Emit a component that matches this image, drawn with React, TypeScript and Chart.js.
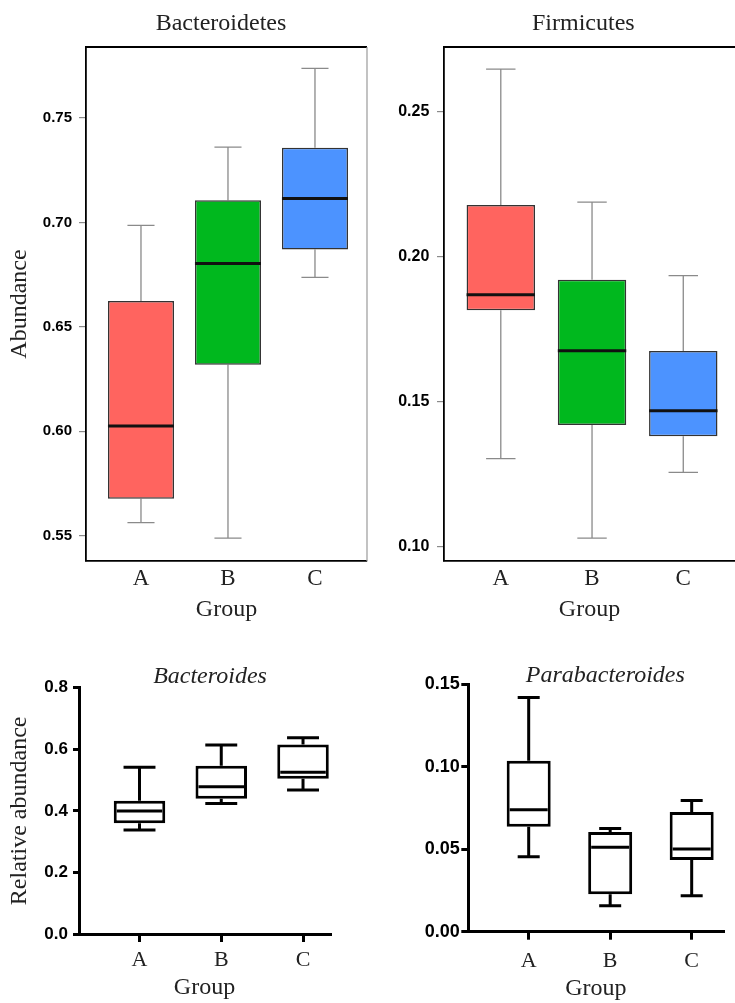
import React, { useEffect, useRef } from 'react';
import { Chart, registerables } from 'chart.js';

Chart.register(...registerables);

// ---------------- data ----------------
const groups = ['A', 'B', 'C'];

// Bacteroidetes (phylum)
const bactMin = [0.5563, 0.5489, 0.6737];
const bactQ1 = [0.5677, 0.6319, 0.6871];
const bactMed = [0.6025, 0.6804, 0.7115];
const bactQ3 = [0.6624, 0.7106, 0.7358];
const bactMax = [0.6986, 0.7361, 0.7738];
const bactTicks = [0.55, 0.6, 0.65, 0.7, 0.75];

// Firmicutes (phylum)
const firmMin = [0.1304, 0.1031, 0.1257];
const firmQ1 = [0.1815, 0.142, 0.1381];
const firmMed = [0.1868, 0.1676, 0.1469];
const firmQ3 = [0.2177, 0.192, 0.1675];
const firmMax = [0.2645, 0.2187, 0.1934];
const firmTicks = [0.1, 0.15, 0.2, 0.25];

// Bacteroides (genus)
const bdsMin = [0.3377, 0.4242, 0.4675];
const bdsQ1 = [0.3594, 0.4394, 0.5043];
const bdsMed = [0.3994, 0.4784, 0.525];
const bdsQ3 = [0.4328, 0.5465, 0.6159];
const bdsMax = [0.542, 0.6136, 0.6374];
const bdsTicks = [0, 0.2, 0.4, 0.6, 0.8];

// Parabacteroides (genus)
const paraMin = [0.0455, 0.0158, 0.0218];
const paraQ1 = [0.0637, 0.0227, 0.0435];
const paraMed = [0.074, 0.0512, 0.0502];
const paraQ3 = [0.1036, 0.0605, 0.0726];
const paraMax = [0.142, 0.0625, 0.0795];
const paraTicks = [0, 0.05, 0.1, 0.15];

const groupColors = ['#FF645F', '#00B81E', '#4C93FF'];

// ---------------- styling ----------------
const SERIF = '"Liberation Serif", "Times New Roman", serif';
const SANS = '"Liberation Sans", Arial, sans-serif';

type Spec = {
  x: number; y: number; w: number; h: number;
  padTop: number; padRight: number; yWidth: number; xHeight: number;
  xMin: number; xMax: number; yMin: number; yMax: number;
  yTicks: number[]; decimals: number;
  min: number[]; q1: number[]; med: number[]; q3: number[]; max: number[];
  fills: string[]; boxBorder: string; boxBorderWidth: number;
  barPct: number; capRatio: number;
  whiskerColor: string; whiskerWidth: number;
  medianColor: string; medianWidth: number; medianInset: number;
  tickFont: number; tickLen: number; tickPad: number; tickColor: string; tickWidth: number;
  axisWidth: number;
  xTickLen: number; xLabelPad: number; xTitlePad: number; xLabelFont: number;
  yTitle?: string; yTitlePad: number;
  title: string; titleItalic: boolean; titleX: number; titleY: number;
  frameTop: boolean; frameRight: boolean;
};

const specs: Spec[] = [
  {
    x: 0, y: 0, w: 370, h: 640,
    padTop: 47, padRight: 3, yWidth: 86, xHeight: 79,
    xMin: 0.368, xMax: 3.598, yMin: 0.5379, yMax: 0.784,
    yTicks: bactTicks, decimals: 2,
    min: bactMin, q1: bactQ1, med: bactMed, q3: bactQ3, max: bactMax,
    fills: groupColors, boxBorder: '#333333', boxBorderWidth: 1.5,
    barPct: 0.759, capRatio: 0.41,
    whiskerColor: '#8a8a8a', whiskerWidth: 1.3,
    medianColor: '#111111', medianWidth: 3, medianInset: 0,
    tickFont: 15, tickLen: 7, tickPad: 7, tickColor: '#8a8a8a', tickWidth: 1.2,
    axisWidth: 1.8,
    xTickLen: 0, xLabelPad: 6.5, xTitlePad: 18, xLabelFont: 23,
    yTitle: 'Abundance', yTitlePad: 7.6,
    title: 'Bacteroidetes', titleItalic: false, titleX: 221, titleY: 24,
    frameTop: true, frameRight: true,
  },
  {
    x: 370, y: 0, w: 365, h: 640,
    padTop: 47, padRight: 0, yWidth: 74, xHeight: 79,
    xMin: 0.3775, xMax: 3.567, yMin: 0.0952, yMax: 0.2721,
    yTicks: firmTicks, decimals: 2,
    min: firmMin, q1: firmQ1, med: firmMed, q3: firmQ3, max: firmMax,
    fills: groupColors, boxBorder: '#333333', boxBorderWidth: 1.5,
    barPct: 0.75, capRatio: 0.43,
    whiskerColor: '#8a8a8a', whiskerWidth: 1.3,
    medianColor: '#111111', medianWidth: 3, medianInset: 0,
    tickFont: 16, tickLen: 7, tickPad: 7.7, tickColor: '#8a8a8a', tickWidth: 1.2,
    axisWidth: 1.8,
    xTickLen: 0, xLabelPad: 6.5, xTitlePad: 18, xLabelFont: 23,
    yTitlePad: 0,
    title: 'Firmicutes', titleItalic: false, titleX: 213.3, titleY: 24,
    frameTop: true, frameRight: false,
  },
  {
    x: 0, y: 640, w: 370, h: 363,
    padTop: 47.7, padRight: 40, yWidth: 79, xHeight: 69,
    xMin: 0.26, xMax: 3.33, yMin: 0, yMax: 0.8,
    yTicks: bdsTicks, decimals: 1,
    min: bdsMin, q1: bdsQ1, med: bdsMed, q3: bdsQ3, max: bdsMax,
    fills: ['#ffffff', '#ffffff', '#ffffff'], boxBorder: '#000000', boxBorderWidth: 3,
    barPct: 0.63, capRatio: 0.62,
    whiskerColor: '#000000', whiskerWidth: 3,
    medianColor: '#000000', medianWidth: 3, medianInset: 3,
    tickFont: 17, tickLen: 6, tickPad: 5, tickColor: '#000000', tickWidth: 3,
    axisWidth: 3,
    xTickLen: 8, xLabelPad: 7.5, xTitlePad: 3.5, xLabelFont: 22,
    yTitle: 'Relative abundance', yTitlePad: 8,
    title: 'Bacteroides', titleItalic: true, titleX: 210, titleY: 36.3,
    frameTop: false, frameRight: false,
  },
  {
    x: 370, y: 640, w: 365, h: 363,
    padTop: 44.3, padRight: 11.7, yWidth: 98.3, xHeight: 71.3,
    xMin: 0.259, xMax: 3.388, yMin: 0, yMax: 0.15,
    yTicks: paraTicks, decimals: 2,
    min: paraMin, q1: paraQ1, med: paraMed, q3: paraQ3, max: paraMax,
    fills: ['#ffffff', '#ffffff', '#ffffff'], boxBorder: '#000000', boxBorderWidth: 3,
    barPct: 0.54, capRatio: 0.5,
    whiskerColor: '#000000', whiskerWidth: 3,
    medianColor: '#000000', medianWidth: 3, medianInset: 3,
    tickFont: 18, tickLen: 7, tickPad: 1.5, tickColor: '#000000', tickWidth: 3,
    axisWidth: 3,
    xTickLen: 8, xLabelPad: 10.1, xTitlePad: 2, xLabelFont: 22,
    yTitlePad: 0,
    title: 'Parabacteroides', titleItalic: true, titleX: 235.3, titleY: 36,
    frameTop: false, frameRight: false,
  },
];

function buildConfig(s: Spec): any {
  const data = groups.map((_, i) => ({ x: i + 1, y: [s.q1[i], s.q3[i]] }));

  const whiskerPlugin = {
    id: 'whiskers',
    beforeDatasetsDraw(chart: any) {
      const ctx = chart.ctx;
      const xs = chart.scales.x;
      const ys = chart.scales.y;
      const meta = chart.getDatasetMeta(0);
      ctx.save();
      ctx.strokeStyle = s.whiskerColor;
      ctx.lineWidth = s.whiskerWidth;
      ctx.lineCap = 'butt';
      groups.forEach((_, i) => {
        const el = meta.data[i];
        const cx = xs.getPixelForValue(i + 1);
        const capW = el.width * s.capRatio;
        const yMax = ys.getPixelForValue(s.max[i]);
        const yMin = ys.getPixelForValue(s.min[i]);
        const yQ1 = ys.getPixelForValue(s.q1[i]);
        const yQ3 = ys.getPixelForValue(s.q3[i]);
        ctx.beginPath();
        ctx.moveTo(cx, yQ3);
        ctx.lineTo(cx, yMax);
        ctx.moveTo(cx - capW / 2, yMax);
        ctx.lineTo(cx + capW / 2, yMax);
        ctx.moveTo(cx, yQ1);
        ctx.lineTo(cx, yMin);
        ctx.moveTo(cx - capW / 2, yMin);
        ctx.lineTo(cx + capW / 2, yMin);
        ctx.stroke();
      });
      ctx.restore();
    },
    afterDatasetsDraw(chart: any) {
      const ctx = chart.ctx;
      const xs = chart.scales.x;
      const ys = chart.scales.y;
      const meta = chart.getDatasetMeta(0);
      ctx.save();
      ctx.strokeStyle = s.medianColor;
      ctx.lineWidth = s.medianWidth;
      groups.forEach((_, i) => {
        const el = meta.data[i];
        const cx = xs.getPixelForValue(i + 1);
        const half = el.width / 2 - s.medianInset;
        const yMed = ys.getPixelForValue(s.med[i]);
        ctx.beginPath();
        ctx.moveTo(cx - half, yMed);
        ctx.lineTo(cx + half, yMed);
        ctx.stroke();
      });
      ctx.restore();
    },
  };

  const framePlugin = {
    id: 'frame',
    afterDraw(chart: any) {
      const { ctx, chartArea } = chart;
      ctx.save();
      if (s.frameTop) {
        ctx.strokeStyle = '#000000';
        ctx.lineWidth = s.axisWidth;
        ctx.beginPath();
        ctx.moveTo(chartArea.left - s.axisWidth / 2, chartArea.top);
        ctx.lineTo(chartArea.right, chartArea.top);
        ctx.stroke();
      }
      if (s.frameRight) {
        ctx.strokeStyle = '#9a9a9a';
        ctx.lineWidth = 1.2;
        ctx.beginPath();
        ctx.moveTo(chartArea.right, chartArea.top);
        ctx.lineTo(chartArea.right, chartArea.bottom);
        ctx.stroke();
      }
      ctx.restore();
    },
  };

  const titlePlugin = {
    id: 'panelTitle',
    afterDraw(chart: any) {
      const ctx = chart.ctx;
      ctx.save();
      ctx.font = `${s.titleItalic ? 'italic ' : ''}24px ${SERIF}`;
      ctx.fillStyle = '#222222';
      ctx.textAlign = 'center';
      ctx.textBaseline = 'middle';
      ctx.fillText(s.title, s.titleX, s.titleY);
      ctx.restore();
    },
  };

  return {
    type: 'bar',
    data: {
      datasets: [
        {
          data,
          backgroundColor: s.fills,
          borderColor: s.boxBorder,
          borderWidth: s.boxBorderWidth,
          borderSkipped: false,
          inflateAmount: 0,
          categoryPercentage: 1,
          barPercentage: s.barPct,
        },
      ],
    },
    options: {
      animation: false,
      responsive: false,
      devicePixelRatio: 1,
      layout: { padding: { top: s.padTop, right: s.padRight, left: 0, bottom: 0 } },
      plugins: { legend: { display: false }, tooltip: { enabled: false }, title: { display: false } },
      scales: {
        x: {
          type: 'linear',
          min: s.xMin,
          max: s.xMax,
          offset: false,
          afterBuildTicks: (sc: any) => {
            sc.ticks = groups.map((_, i) => ({ value: i + 1 }));
          },
          afterFit: (sc: any) => {
            sc.height = s.xHeight;
          },
          ticks: {
            autoSkip: false,
            maxRotation: 0,
            minRotation: 0,
            padding: s.xLabelPad,
            color: '#222222',
            font: { family: SERIF, size: s.xLabelFont, lineHeight: 1 },
            callback: (v: any) => groups[Math.round(Number(v)) - 1] ?? '',
          },
          grid: {
            display: s.xTickLen > 0,
            offset: false,
            drawOnChartArea: false,
            drawTicks: s.xTickLen > 0,
            tickLength: s.xTickLen,
            color: s.tickColor,
            lineWidth: s.tickWidth,
          },
          border: { display: true, color: '#000000', width: s.axisWidth },
          title: {
            display: true,
            text: 'Group',
            color: '#222222',
            font: { family: SERIF, size: 24, lineHeight: 1 },
            padding: { top: 0, bottom: s.xTitlePad },
          },
        },
        y: {
          type: 'linear',
          min: s.yMin,
          max: s.yMax,
          beginAtZero: false,
          afterBuildTicks: (sc: any) => {
            sc.ticks = s.yTicks.map((v) => ({ value: v }));
          },
          afterFit: (sc: any) => {
            sc.width = s.yWidth;
          },
          ticks: {
            padding: s.tickPad,
            color: '#000000',
            font: { family: SANS, size: s.tickFont, weight: 'bold' },
            callback: (v: any) => Number(v).toFixed(s.decimals),
          },
          grid: {
            display: true,
            drawOnChartArea: false,
            drawTicks: true,
            tickLength: s.tickLen,
            color: s.tickColor,
            lineWidth: s.tickWidth,
          },
          border: { display: true, color: '#000000', width: s.axisWidth },
          title: {
            display: !!s.yTitle,
            text: s.yTitle ?? '',
            color: '#222222',
            font: { family: SERIF, size: 24, lineHeight: 1 },
            padding: { top: s.yTitlePad, bottom: 0 },
          },
        },
      },
    },
    plugins: [whiskerPlugin, framePlugin, titlePlugin],
  };
}

function BoxPanel({ spec }: { spec: Spec }) {
  const ref = useRef<HTMLCanvasElement>(null);
  useEffect(() => {
    if (!ref.current) return;
    const chart = new Chart(ref.current, buildConfig(spec));
    return () => chart.destroy();
  }, [spec]);
  return (
    <canvas
      ref={ref}
      width={spec.w}
      height={spec.h}
      style={{ position: 'absolute', left: spec.x, top: spec.y, width: spec.w, height: spec.h }}
    />
  );
}

export default function App() {
  return (
    <div style={{ position: 'absolute', left: 0, top: 0, width: 735, height: 1003, background: '#ffffff', overflow: 'hidden' }}>
      {specs.map((s, i) => (
        <BoxPanel key={i} spec={s} />
      ))}
    </div>
  );
}
